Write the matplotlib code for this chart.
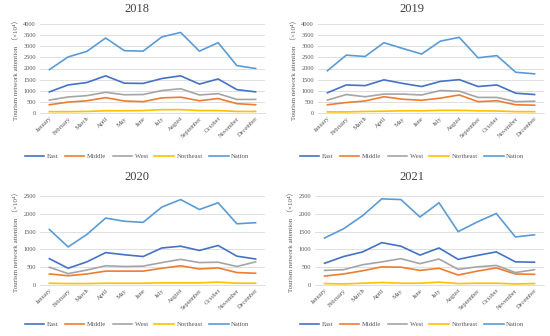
import matplotlib
matplotlib.use("Agg")
import matplotlib.pyplot as plt

months = ["January", "February", "March", "April", "May", "June", "July",
          "August", "September", "October", "November", "December"]
regions = ["East", "Middle", "West", "Northeast", "Nation"]
colors = {"East": "#4472C4", "Middle": "#ED7D31", "West": "#A5A5A5",
          "Northeast": "#FFC000", "Nation": "#5B9BD5"}

east_2018 = [950, 1260, 1370, 1670, 1340, 1330, 1550, 1670, 1300, 1530, 1050, 950]
middle_2018 = [370, 490, 550, 690, 540, 510, 680, 710, 550, 650, 420, 370]
west_2018 = [580, 720, 780, 930, 820, 830, 1010, 1090, 810, 870, 610, 610]
northeast_2018 = [60, 60, 70, 100, 100, 110, 150, 150, 110, 110, 70, 70]
nation_2018 = [1950, 2520, 2770, 3370, 2800, 2780, 3420, 3620, 2780, 3160, 2130, 2000]

east_2019 = [910, 1260, 1230, 1490, 1330, 1190, 1420, 1500, 1190, 1260, 890, 830]
middle_2019 = [370, 470, 540, 730, 620, 570, 670, 810, 510, 550, 370, 350]
west_2019 = [580, 830, 730, 850, 850, 810, 1010, 980, 700, 700, 510, 530]
northeast_2019 = [50, 50, 70, 80, 100, 100, 120, 120, 100, 90, 60, 60]
nation_2019 = [1900, 2600, 2540, 3160, 2900, 2650, 3230, 3400, 2480, 2580, 1830, 1760]

east_2020 = [740, 470, 650, 910, 850, 800, 1040, 1090, 970, 1110, 810, 730]
middle_2020 = [310, 260, 310, 390, 390, 390, 470, 540, 450, 480, 350, 330]
west_2020 = [500, 320, 420, 540, 520, 530, 630, 720, 630, 640, 520, 650]
northeast_2020 = [50, 40, 40, 50, 50, 50, 60, 60, 60, 80, 50, 50]
nation_2020 = [1560, 1070, 1420, 1880, 1790, 1760, 2190, 2400, 2120, 2310, 1720, 1750]

east_2021 = [610, 800, 930, 1190, 1090, 840, 1040, 720, 830, 930, 650, 640]
middle_2021 = [250, 310, 400, 510, 500, 410, 470, 280, 390, 480, 310, 300]
west_2021 = [410, 430, 570, 650, 740, 600, 730, 440, 510, 550, 350, 430]
northeast_2021 = [40, 30, 50, 70, 50, 50, 80, 40, 50, 50, 30, 40]
nation_2021 = [1320, 1580, 1950, 2420, 2400, 1910, 2310, 1500, 1770, 2010, 1350, 1410]

years = ["2018", "2019", "2020", "2021"]
series = {
    "2018": [east_2018, middle_2018, west_2018, northeast_2018, nation_2018],
    "2019": [east_2019, middle_2019, west_2019, northeast_2019, nation_2019],
    "2020": [east_2020, middle_2020, west_2020, northeast_2020, nation_2020],
    "2021": [east_2021, middle_2021, west_2021, northeast_2021, nation_2021],
}
ymax = {"2018": 4000, "2019": 4000, "2020": 2500, "2021": 2500}

plt.rcParams["font.family"] = ["Liberation Serif", "DejaVu Serif"]

W, H = 550, 336
fig = plt.figure(figsize=(W / 100, H / 100), dpi=100)
fig.patch.set_facecolor("white")

# axes boxes in pixels: (left, top, right, bottom)
boxes = {
    "2018": (40, 24, 265, 113),
    "2019": (318, 24, 544, 113),
    "2020": (40, 196, 265, 285),
    "2021": (315, 196, 544, 285),
}
panel_x = {"2018": 0, "2019": 275, "2020": 0, "2021": 275}
panel_y = {"2018": 0, "2019": 0, "2020": 168, "2021": 168}

for yr in years:
    l, t, r, b = boxes[yr]
    ax = fig.add_axes([l / W, 1 - b / H, (r - l) / W, (b - t) / H])
    x = range(len(months))
    for name, vals in zip(regions, series[yr]):
        ax.plot(x, vals, color=colors[name], lw=1.2, label=name)
    ax.set_xlim(-0.5, len(months) - 0.5)
    ax.set_ylim(0, ymax[yr])
    ax.set_yticks(range(0, ymax[yr] + 1, 500))
    ax.tick_params(axis="y", labelsize=4.6, length=0, pad=3, colors="#595959")
    ax.set_xticks(list(x))
    ax.set_xticklabels(months, rotation=45, ha="right", rotation_mode="anchor",
                       fontsize=4.6, color="#595959")
    ax.tick_params(axis="x", length=0, pad=2)
    ax.grid(axis="y", color="#D9D9D9", lw=0.6)
    ax.set_axisbelow(True)
    for s in ("top", "right", "left"):
        ax.spines[s].set_visible(False)
    ax.spines["bottom"].set_color("#D9D9D9")
    ax.spines["bottom"].set_linewidth(0.6)
    ax.set_ylabel("Tourism network attention \uff08\u00d710\u2074\uff09",
                  fontsize=5, color="#595959", labelpad=3,
                  family=["Liberation Serif", "Noto Sans CJK SC"])

    cx = panel_x[yr] + 137
    fig.text(cx / W, 1 - (panel_y[yr] + 9) / H, yr,
             ha="center", va="center", fontsize=9, color="#404040")
    fig.legend(*ax.get_legend_handles_labels(), loc="center",
               bbox_to_anchor=(cx / W, 1 - (panel_y[yr] + 156) / H),
               ncol=5, frameon=False, fontsize=4.8, handlelength=2.9,
               columnspacing=1.0, handletextpad=0.4, labelcolor="#595959")

fig.savefig("out.png", dpi=100, facecolor="white")
